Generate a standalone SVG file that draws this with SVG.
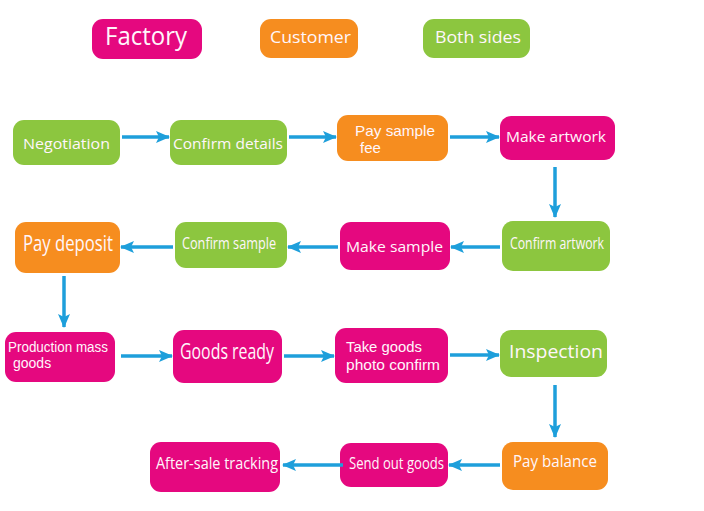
<svg xmlns="http://www.w3.org/2000/svg" width="704" height="511" viewBox="0 0 704 511">
<style>
.f{fill:#E5087F}
.c{fill:#F68D1F}
.b{fill:#8CC63F}
text{font-family:"Open Sans","Noto Sans","Liberation Sans",sans-serif;fill:#FFF6FB}
text.m{font-family:"Liberation Sans",Arial,sans-serif}
.t{font-size:15px}
.conn line{stroke:#1E9FDB;stroke-width:3.5;marker-end:url(#ah)}
</style>
<defs>
<marker id="ah" markerUnits="userSpaceOnUse" markerWidth="14" markerHeight="12" refX="13" refY="6" orient="auto">
<path d="M0,0 L14,6 L0,12 L3,6 Z" fill="#1E9FDB"/>
</marker>
</defs>
<rect width="704" height="511" fill="#FFFFFF"/>
<g id="legend-factory"><rect class="f" x="92" y="19" width="110" height="40" rx="11"/><text x="105" y="45" font-size="25" textLength="82" lengthAdjust="spacingAndGlyphs">Factory</text></g>
<g id="legend-customer"><rect class="c" x="260" y="19" width="98" height="39" rx="11"/><text x="270" y="43" font-size="17" textLength="81" lengthAdjust="spacingAndGlyphs">Customer</text></g>
<g id="legend-both"><rect class="b" x="423" y="19" width="107" height="39" rx="11"/><text x="435" y="43" font-size="17" textLength="86" lengthAdjust="spacingAndGlyphs">Both sides</text></g>

<g id="negotiation"><rect class="b" x="13" y="120" width="107" height="45" rx="11"/><text class="t" x="23" y="149" textLength="87" lengthAdjust="spacingAndGlyphs">Negotiation</text></g>
<g id="confirm-details"><rect class="b" x="170" y="120" width="117" height="45" rx="11"/><text class="t" x="173" y="149" textLength="110" lengthAdjust="spacingAndGlyphs">Confirm details</text></g>
<g id="pay-sample-fee"><rect class="c" x="337" y="115" width="111" height="46" rx="11"/><text class="t m" x="355" y="136" textLength="80" lengthAdjust="spacingAndGlyphs">Pay sample</text><text class="t m" x="360" y="153">fee</text></g>
<g id="make-artwork"><rect class="f" x="500" y="116" width="115" height="44" rx="11"/><text class="t" x="506" y="142" textLength="100" lengthAdjust="spacingAndGlyphs">Make artwork</text></g>

<g id="pay-deposit"><rect class="c" x="15" y="222" width="105" height="51" rx="11"/><text x="23" y="251" font-size="21" textLength="90" lengthAdjust="spacingAndGlyphs">Pay deposit</text></g>
<g id="confirm-sample"><rect class="b" x="175" y="222" width="112" height="46" rx="11"/><text x="182" y="249" font-size="17" textLength="94" lengthAdjust="spacingAndGlyphs">Confirm sample</text></g>
<g id="make-sample"><rect class="f" x="340" y="222" width="110" height="48" rx="11"/><text class="t" x="346" y="252" textLength="97" lengthAdjust="spacingAndGlyphs">Make sample</text></g>
<g id="confirm-artwork"><rect class="b" x="502" y="221" width="108" height="50" rx="11"/><text x="510" y="249" font-size="17" textLength="94" lengthAdjust="spacingAndGlyphs">Confirm artwork</text></g>

<g id="production"><rect class="f" x="5" y="332" width="110" height="50" rx="11"/><text class="m" x="8" y="352" font-size="14" textLength="100" lengthAdjust="spacingAndGlyphs">Production mass</text><text class="m" x="13" y="368" font-size="14">goods</text></g>
<g id="goods-ready"><rect class="f" x="173" y="330" width="109" height="53" rx="11"/><text x="180" y="359" font-size="21" textLength="94" lengthAdjust="spacingAndGlyphs">Goods ready</text></g>
<g id="take-goods"><rect class="f" x="335" y="328" width="113" height="55" rx="11"/><text class="t m" x="346" y="352" textLength="76" lengthAdjust="spacingAndGlyphs">Take goods</text><text class="t m" x="346" y="370" textLength="94" lengthAdjust="spacingAndGlyphs">photo confirm</text></g>
<g id="inspection"><rect class="b" x="500" y="330" width="107" height="47" rx="11"/><text x="509" y="358" font-size="19" textLength="94" lengthAdjust="spacingAndGlyphs">Inspection</text></g>

<g id="after-sale"><rect class="f" x="150" y="442" width="130" height="50" rx="11"/><text x="156" y="469" font-size="17" textLength="122" lengthAdjust="spacingAndGlyphs">After-sale tracking</text></g>
<g id="send-out"><rect class="f" x="340" y="443" width="108" height="44" rx="11"/><text x="349" y="469" font-size="16" textLength="95" lengthAdjust="spacingAndGlyphs">Send out goods</text></g>
<g id="pay-balance"><rect class="c" x="502" y="442" width="106" height="48" rx="11"/><text x="513" y="467" font-size="17" textLength="84" lengthAdjust="spacingAndGlyphs">Pay balance</text></g>

<g class="conn" id="connectors">
<line x1="122" y1="137" x2="169" y2="137"/>
<line x1="289" y1="137" x2="336" y2="137"/>
<line x1="450" y1="137" x2="499" y2="137"/>
<line x1="555" y1="167" x2="555" y2="217"/>
<line x1="500" y1="247" x2="451" y2="247"/>
<line x1="338" y1="247" x2="288" y2="247"/>
<line x1="173" y1="247" x2="121" y2="247"/>
<line x1="64" y1="276" x2="64" y2="327"/>
<line x1="121" y1="356" x2="172" y2="356"/>
<line x1="284" y1="356" x2="334" y2="356"/>
<line x1="450" y1="355" x2="499" y2="355"/>
<line x1="555" y1="385" x2="555" y2="437"/>
<line x1="500" y1="465" x2="449" y2="465"/>
<line x1="343" y1="465" x2="283" y2="465"/>
</g>
</svg>
